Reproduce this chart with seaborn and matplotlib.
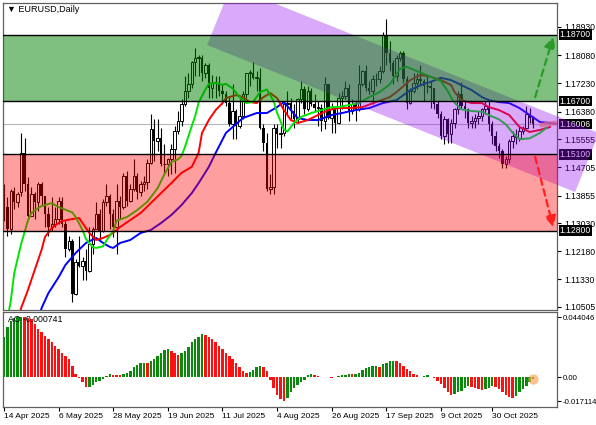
import numpy as np
import pandas as pd
import matplotlib
matplotlib.use('Agg')
import matplotlib.pyplot as plt
from matplotlib.patches import Polygon
from matplotlib.transforms import Bbox, TransformedBbox
import seaborn as sns

sns.set_theme(style='white')
plt.rcParams['font.family'] = ['Liberation Sans', 'DejaVu Sans']

# ── EURUSD daily bars, 14 Apr 2025 onwards ───────────────────────────────────
START_DATE = '2025-04-14'

OPEN = [
    1.1360, 1.1350, 1.1285, 1.1398, 1.1365,
    1.1395, 1.1515, 1.1420, 1.1325, 1.1390,
    1.1365, 1.1420, 1.1385, 1.1330, 1.1290,
    1.1300, 1.1315, 1.1370, 1.1300, 1.1225,
    1.1250, 1.1090, 1.1185, 1.1175, 1.1190,
    1.1160, 1.1240, 1.1285, 1.1330, 1.1280,
    1.1365, 1.1385, 1.1330, 1.1290, 1.1370,
    1.1350, 1.1445, 1.1370, 1.1405, 1.1445,
    1.1395, 1.1420, 1.1425, 1.1485, 1.1585,
    1.1550, 1.1560, 1.1480, 1.1480, 1.1495,
    1.1525, 1.1580, 1.1610, 1.1660, 1.1700,
    1.1720, 1.1787, 1.1800, 1.1800, 1.1755,
    1.1780, 1.1710, 1.1725, 1.1720, 1.1700,
    1.1690, 1.1665, 1.1600, 1.1640, 1.1595,
    1.1625, 1.1690, 1.1755, 1.1755, 1.1740,
    1.1740, 1.1590, 1.1545, 1.1405, 1.1410,
    1.1590, 1.1570, 1.1575, 1.1660, 1.1665,
    1.1640, 1.1615, 1.1675, 1.1705, 1.1645,
    1.1700, 1.1660, 1.1650, 1.1650, 1.1610,
    1.1720, 1.1620, 1.1645, 1.1605, 1.1680,
    1.1685, 1.1710, 1.1640, 1.1660, 1.1645,
    1.1720, 1.1760, 1.1710, 1.1700, 1.1735,
    1.1735, 1.1760, 1.1870, 1.1815, 1.1785,
    1.1745, 1.1800, 1.1815, 1.1735, 1.1665,
    1.1700, 1.1725, 1.1735, 1.1730, 1.1715,
    1.1715, 1.1710, 1.1660, 1.1630, 1.1565,
    1.1615, 1.1570, 1.1605, 1.1645, 1.1690,
    1.1655, 1.1645, 1.1605, 1.1610, 1.1620,
    1.1625, 1.1645, 1.1655, 1.1600, 1.1565,
    1.1535, 1.1520, 1.1480, 1.1495, 1.1550,
    1.1565, 1.1560, 1.1580, 1.1590, 1.1630,
    1.1620,
]
HIGH = [
    1.1420, 1.1380, 1.1405, 1.1410, 1.1395,
    1.1574, 1.1560, 1.1440, 1.1410, 1.1395,
    1.1425, 1.1425, 1.1385, 1.1350, 1.1380,
    1.1350, 1.1380, 1.1380, 1.1310, 1.1265,
    1.1255, 1.1195, 1.1265, 1.1200, 1.1225,
    1.1290, 1.1290, 1.1365, 1.1345, 1.1375,
    1.1420, 1.1390, 1.1345, 1.1420, 1.1385,
    1.1455, 1.1460, 1.1420, 1.1495, 1.1455,
    1.1430, 1.1445, 1.1495, 1.1630, 1.1615,
    1.1615, 1.1590, 1.1540, 1.1500, 1.1540,
    1.1595, 1.1640, 1.1675, 1.1745, 1.1755,
    1.1790, 1.1830, 1.1810, 1.1810, 1.1785,
    1.1785, 1.1750, 1.1745, 1.1745, 1.1720,
    1.1700, 1.1685, 1.1720, 1.1645, 1.1675,
    1.1700, 1.1755, 1.1765, 1.1788, 1.1760,
    1.1770, 1.1600, 1.1575, 1.1450, 1.1600,
    1.1600, 1.1595, 1.1670, 1.1700, 1.1680,
    1.1660, 1.1680, 1.1730, 1.1715, 1.1715,
    1.1710, 1.1690, 1.1670, 1.1660, 1.1742,
    1.1720, 1.1665, 1.1650, 1.1695, 1.1700,
    1.1730, 1.1720, 1.1675, 1.1670, 1.1780,
    1.1765, 1.1780, 1.1730, 1.1750, 1.1755,
    1.1775, 1.1878, 1.1918, 1.1850, 1.1795,
    1.1810, 1.1820, 1.1820, 1.1745, 1.1710,
    1.1755, 1.1755, 1.1780, 1.1735, 1.1750,
    1.1730, 1.1710, 1.1670, 1.1640, 1.1625,
    1.1620, 1.1615, 1.1650, 1.1700, 1.1728,
    1.1670, 1.1650, 1.1625, 1.1630, 1.1640,
    1.1650, 1.1670, 1.1670, 1.1610, 1.1580,
    1.1545, 1.1525, 1.1505, 1.1555, 1.1580,
    1.1585, 1.1595, 1.1595, 1.1655, 1.1650,
    1.1625,
]
LOW = [
    1.1310, 1.1265, 1.1270, 1.1345, 1.1350,
    1.1385, 1.1400, 1.1320, 1.1325, 1.1315,
    1.1340, 1.1355, 1.1290, 1.1265, 1.1280,
    1.1290, 1.1300, 1.1290, 1.1200, 1.1220,
    1.1065, 1.1085, 1.1170, 1.1130, 1.1130,
    1.1155, 1.1210, 1.1285, 1.1250, 1.1275,
    1.1355, 1.1285, 1.1260, 1.1210, 1.1315,
    1.1345, 1.1355, 1.1365, 1.1400, 1.1375,
    1.1385, 1.1400, 1.1405, 1.1480, 1.1490,
    1.1520, 1.1475, 1.1450, 1.1445, 1.1450,
    1.1453, 1.1570, 1.1595, 1.1655, 1.1680,
    1.1710, 1.1745, 1.1745, 1.1730, 1.1740,
    1.1680, 1.1680, 1.1680, 1.1685, 1.1660,
    1.1655, 1.1595, 1.1555, 1.1555, 1.1590,
    1.1615, 1.1680, 1.1715, 1.1735, 1.1700,
    1.1585, 1.1520, 1.1400, 1.1390, 1.1390,
    1.1530, 1.1530, 1.1565, 1.1630, 1.1615,
    1.1590, 1.1605, 1.1665, 1.1630, 1.1640,
    1.1655, 1.1640, 1.1595, 1.1580, 1.1585,
    1.1615, 1.1575, 1.1575, 1.1600, 1.1645,
    1.1675, 1.1610, 1.1630, 1.1610, 1.1640,
    1.1715, 1.1700, 1.1690, 1.1660, 1.1715,
    1.1725, 1.1755, 1.1780, 1.1760, 1.1720,
    1.1730, 1.1790, 1.1725, 1.1645, 1.1660,
    1.1695, 1.1705, 1.1715, 1.1670, 1.1695,
    1.1650, 1.1645, 1.1620, 1.1555, 1.1540,
    1.1545, 1.1545, 1.1590, 1.1630, 1.1650,
    1.1620, 1.1590, 1.1590, 1.1590, 1.1600,
    1.1610, 1.1630, 1.1580, 1.1540, 1.1520,
    1.1500, 1.1470, 1.1468, 1.1485, 1.1530,
    1.1540, 1.1550, 1.1570, 1.1585, 1.1605,
    1.1590,
]
CLOSE = [
    1.1350, 1.1285, 1.1398, 1.1365, 1.1390,
    1.1515, 1.1420, 1.1325, 1.1390, 1.1365,
    1.1420, 1.1385, 1.1330, 1.1290, 1.1300,
    1.1315, 1.1370, 1.1300, 1.1225, 1.1250,
    1.1090, 1.1185, 1.1175, 1.1190, 1.1160,
    1.1240, 1.1285, 1.1330, 1.1280, 1.1365,
    1.1385, 1.1330, 1.1290, 1.1370, 1.1350,
    1.1445, 1.1370, 1.1405, 1.1445, 1.1395,
    1.1420, 1.1425, 1.1485, 1.1585, 1.1550,
    1.1560, 1.1480, 1.1480, 1.1495, 1.1525,
    1.1580, 1.1610, 1.1660, 1.1700, 1.1720,
    1.1787, 1.1800, 1.1800, 1.1755, 1.1780,
    1.1710, 1.1725, 1.1720, 1.1700, 1.1690,
    1.1665, 1.1600, 1.1640, 1.1595, 1.1625,
    1.1690, 1.1755, 1.1755, 1.1740, 1.1740,
    1.1590, 1.1545, 1.1405, 1.1410, 1.1590,
    1.1570, 1.1575, 1.1660, 1.1665, 1.1640,
    1.1615, 1.1675, 1.1705, 1.1645, 1.1700,
    1.1660, 1.1650, 1.1650, 1.1610, 1.1720,
    1.1620, 1.1645, 1.1605, 1.1680, 1.1685,
    1.1710, 1.1640, 1.1660, 1.1645, 1.1720,
    1.1760, 1.1710, 1.1700, 1.1735, 1.1735,
    1.1760, 1.1870, 1.1815, 1.1785, 1.1745,
    1.1800, 1.1815, 1.1735, 1.1665, 1.1700,
    1.1725, 1.1735, 1.1730, 1.1715, 1.1715,
    1.1710, 1.1660, 1.1630, 1.1565, 1.1615,
    1.1570, 1.1605, 1.1645, 1.1690, 1.1655,
    1.1645, 1.1605, 1.1610, 1.1620, 1.1625,
    1.1645, 1.1655, 1.1600, 1.1565, 1.1535,
    1.1520, 1.1480, 1.1495, 1.1550, 1.1565,
    1.1560, 1.1580, 1.1590, 1.1630, 1.1620,
    1.1600,
]

# Alligator lines (bar index, value)
GREEN_IDX = [0, 2, 3, 5, 7, 8, 10, 11, 14, 16, 18, 20, 21, 23, 24, 26, 27, 29, 30, 32,
             33, 36, 39, 42, 45, 47, 49, 51, 52, 53, 55, 56, 57, 59, 60, 62, 64, 65, 67, 69,
             71, 73, 75, 77, 79, 80, 82, 83, 85, 87, 90, 93, 96, 98, 101, 104, 107, 110, 113, 116,
             118, 120, 123, 125, 128, 130, 131, 132, 134, 137, 140, 142, 145, 147, 149, 151, 154, 157, 159]
GREEN_VAL = [1.0960, 1.1070, 1.1153, 1.1240, 1.1310, 1.1333, 1.1348, 1.1354, 1.1363, 1.1351,
             1.1343, 1.1335, 1.1321, 1.1282, 1.1255, 1.1230, 1.1228, 1.1233, 1.1250, 1.1280,
             1.1310, 1.1321, 1.1342, 1.1367, 1.1408, 1.1450, 1.1486, 1.1495, 1.1505, 1.1532,
             1.1595, 1.1625, 1.1665, 1.1705, 1.1722, 1.1725, 1.1719, 1.1722, 1.1708, 1.1682,
             1.1664, 1.1668, 1.1697, 1.1705, 1.1670, 1.1634, 1.1585, 1.1578, 1.1605, 1.1622,
             1.1634, 1.1643, 1.1652, 1.1652, 1.1658, 1.1664, 1.1682, 1.1697, 1.1720, 1.1767,
             1.1773, 1.1764, 1.1752, 1.1743, 1.1730, 1.1700, 1.1680, 1.1665, 1.1645, 1.1640,
             1.1638, 1.1628, 1.1615, 1.1600, 1.1575, 1.1555, 1.1558, 1.1574, 1.1590]
RED_IDX = [4, 5, 7, 9, 11, 12, 14, 16, 17, 20, 22, 23, 25, 27, 29, 31, 33, 34, 37, 40,
           43, 46, 49, 52, 55, 57, 58, 60, 62, 64, 65, 68, 70, 72, 74, 76, 78, 80, 82, 84,
           86, 89, 92, 95, 98, 101, 105, 109, 113, 115, 119, 122, 125, 128, 131, 132, 134, 137, 140, 142,
           145, 148, 151, 154, 157, 160]
RED_VAL = [1.0990, 1.1047, 1.1101, 1.1162, 1.1222, 1.1261, 1.1288, 1.1303, 1.1309, 1.1315,
           1.1318, 1.1303, 1.1273, 1.1252, 1.1258, 1.1267, 1.1282, 1.1291, 1.1312, 1.1333,
           1.1363, 1.1393, 1.1423, 1.1454, 1.1472, 1.1514, 1.1574, 1.1613, 1.1643, 1.1664,
           1.1679, 1.1688, 1.1682, 1.1667, 1.1664, 1.1682, 1.1694, 1.1679, 1.1643, 1.1613,
           1.1604, 1.1613, 1.1628, 1.1643, 1.1649, 1.1649, 1.1652, 1.1667, 1.1682, 1.1697,
           1.1733, 1.1749, 1.1743, 1.1733, 1.1718, 1.1697, 1.1673, 1.1664, 1.1664, 1.1652,
           1.1643, 1.1628, 1.1592, 1.1577, 1.1583, 1.1592]
BLUE_IDX = [10, 11, 13, 16, 18, 21, 24, 27, 29, 31, 32, 34, 37, 40, 43, 46, 49, 52, 55, 57,
            60, 62, 65, 67, 70, 74, 77, 80, 82, 84, 86, 89, 92, 96, 99, 103, 107, 111, 115, 119,
            122, 125, 128, 131, 134, 137, 140, 142, 145, 148, 151, 154, 157, 160, 162]
BLUE_VAL = [1.1000, 1.1047, 1.1092, 1.1140, 1.1177, 1.1213, 1.1243, 1.1258, 1.1243, 1.1231,
            1.1228, 1.1243, 1.1252, 1.1273, 1.1282, 1.1303, 1.1327, 1.1357, 1.1393, 1.1423,
            1.1472, 1.1514, 1.1574, 1.1592, 1.1619, 1.1634, 1.1634, 1.1652, 1.1667, 1.1643,
            1.1619, 1.1613, 1.1613, 1.1628, 1.1634, 1.1643, 1.1649, 1.1664, 1.1673, 1.1703,
            1.1718, 1.1728, 1.1740, 1.1733, 1.1718, 1.1703, 1.1682, 1.1673, 1.1667, 1.1664,
            1.1649, 1.1628, 1.1607, 1.1604, 1.1601]

# Awesome Oscillator
AO = [
    0.0296, 0.0365, 0.0413, 0.0432, 0.0440, 0.04405, 0.0438, 0.0433, 0.0425, 0.0389,
    0.0352, 0.0328, 0.0304, 0.0279, 0.0255, 0.0231, 0.0207, 0.0182, 0.0158, 0.0134,
    0.0085, 0.0024, -0.0005, -0.0036, -0.0070, -0.0066, -0.0053, -0.0036, -0.0024, -0.0012,
    0.0012, 0.0029, 0.0021, 0.0017, 0.0016, 0.0024, 0.0034, 0.0049, 0.0073, 0.0092,
    0.0102, 0.0107, 0.0104, 0.0121, 0.0134, 0.0158, 0.0182, 0.0202, 0.0211, 0.0190,
    0.0177, 0.0165, 0.0175, 0.0194, 0.0224, 0.0255, 0.0279, 0.0296, 0.0316, 0.0311,
    0.0296, 0.0279, 0.0255, 0.0231, 0.0207, 0.0182, 0.0158, 0.0134, 0.0109, 0.0073,
    0.0044, 0.0034, 0.0039, 0.0053, 0.0073, 0.0085, 0.0078, 0.0044, -0.0019, -0.0073,
    -0.0125, -0.0160, -0.0171, -0.0146, -0.0109, -0.0073, -0.0053, -0.0036, -0.0019, 0.0019,
    0.0029, 0.0015, 0.0010, 0.0007, 0.0005, 0.0000, -0.0002, 0.0005, 0.0010, 0.0015,
    0.0019, 0.0024, 0.0022, 0.0029, 0.0036, 0.0053, 0.0068, 0.0078, 0.0085, 0.0087,
    0.0078, 0.0097, 0.0109, 0.0117, 0.0121, 0.0117, 0.0104, 0.0085, 0.0061, 0.0044,
    0.0029, 0.0015, 0.0007, 0.0010, 0.0015, 0.0005, -0.0007, -0.0024, -0.0044, -0.0073,
    -0.0104, -0.0126, -0.0122, -0.0109, -0.0097, -0.0078, -0.0061, -0.0068, -0.0078, -0.0085,
    -0.0092, -0.0087, -0.0073, -0.0061, -0.0068, -0.0085, -0.0109, -0.0126, -0.0139, -0.0146,
    -0.0134, -0.0109, -0.0085, -0.0061, -0.0036, -0.000741,
]
AO_LABEL = 'AO -0.000741'

# Analyst drawings
GREEN_ZONE = (1.1670, 1.1870)
RED_ZONE = (1.1280, 1.1510)
LAST_PRICE = 1.16006
CHANNEL = [(59.5, 1.18388), (66.5, 1.20164), (174.3, 1.15739), (167.3, 1.13963)]
ARROW_UP = [(155.6, 1.1682), (160.9, 1.1863)]
ARROW_DN = [(155.6, 1.1502), (160.9, 1.1291)]
LINE_END_MARK = [(157.5, 1.1598), (161.5, 1.1604)]

Y_TICKS = [1.18930, 1.18080, 1.17230, 1.16380, 1.15555, 1.14705,
           1.13855, 1.13030, 1.12180, 1.11330, 1.10505]
BOX_LEVELS = [1.18700, 1.16700, 1.16006, 1.15100, 1.12800]
AO_TICKS = [0.044046, 0.0, -0.017114]
AO_TICK_LABELS = ['0.044046', '0.00', '-0.017114']
DATE_LABEL_BARS = [0, 16, 32, 48, 64, 80, 96, 112, 128, 143]

# ── Figure layout (pixel boxes) ─────────────────────────────────────────────
W, H = 596, 425
fig = plt.figure(figsize=(W / 100, H / 100), dpi=100)
fig.patch.set_facecolor('white')


def px_axes(x0, y0, x1, y1):
    return fig.add_axes([x0 / W, 1 - y1 / H, (x1 - x0) / W, (y1 - y0) / H])


ax = px_axes(3, 3, 557, 310)
ax2 = px_axes(3, 312, 557, 407)

n = len(CLOSE)
xi = np.arange(n)
o, h, l, c = map(np.array, (OPEN, HIGH, LOW, CLOSE))
dates = pd.bdate_range(START_DATE, periods=n)

# ── Main price panel ────────────────────────────────────────────────────────
ax.axhline(LAST_PRICE, color='#b8b8b8', lw=0.8, zorder=1.5)

up = c >= o
body_lo = np.minimum(o, c)
body_h = np.maximum(np.abs(c - o), 0.00012)
ax.vlines(xi, l, h, color='black', lw=0.8, zorder=2)
ax.bar(xi[up], body_h[up], bottom=body_lo[up], width=0.72,
       facecolor='white', edgecolor='black', linewidth=0.7, zorder=2.2)
ax.bar(xi[~up], body_h[~up], bottom=body_lo[~up], width=0.72,
       color='black', linewidth=0, zorder=2.2)

sns.lineplot(x=BLUE_IDX, y=BLUE_VAL, ax=ax, color='#0000ff', lw=1.4, zorder=3)
sns.lineplot(x=RED_IDX, y=RED_VAL, ax=ax, color='#ff0000', lw=1.4, zorder=3)
sns.lineplot(x=GREEN_IDX, y=GREEN_VAL, ax=ax, color='#00e600', lw=1.4, zorder=3)

(mx0, my0), (mx1, my1) = LINE_END_MARK
ax.plot([mx0, mx1], [my0, my1], color='#ff9a5a', lw=3.5, alpha=0.75,
        solid_capstyle='round', zorder=3.4)

# descending channel (extends into the price scale)
chan = ax.add_patch(Polygon(CHANNEL, closed=True, facecolor=(149 / 255, 12 / 255, 241 / 255),
                            alpha=0.35, lw=0, zorder=4))
chan.set_clip_box(TransformedBbox(Bbox([[0, 0], [1.1, 1]]), ax.transAxes))

# support / resistance zones
ax.axhspan(*GREEN_ZONE, facecolor=(0, 0.5, 0), alpha=0.5, lw=0, zorder=5)
ax.axhspan(*RED_ZONE, facecolor=(1, 0, 0), alpha=0.38, lw=0, zorder=5)
for lvl in GREEN_ZONE + RED_ZONE:
    ax.axhline(lvl, color='black', lw=1.0, zorder=6)

for (p0, p1), col in [(ARROW_UP, '#2a9a2a'), (ARROW_DN, '#ff2020')]:
    ax.annotate('', xy=p1, xytext=p0, zorder=7,
                arrowprops=dict(arrowstyle='-|>,head_length=0.55,head_width=0.28',
                                color=col, lw=1.6, linestyle=(0, (3, 2)),
                                shrinkA=0, shrinkB=0))

ax.set_xlim(-0.3, 162.0)
ax.set_ylim(1.10412, 1.19652)
ax.set_xticks([])
ax.yaxis.tick_right()
ax.set_yticks(Y_TICKS)
ax.set_yticklabels([f'{v:.5f}' for v in Y_TICKS])
ax.tick_params(axis='y', length=3, width=0.8, pad=2.5, labelsize=6.2,
               colors='black', right=True, left=False)
ax.set_xlabel('')
ax.set_ylabel('')

for v in BOX_LEVELS:
    ax.text(1.005, v, f'{v:.5f}', transform=ax.get_yaxis_transform(),
            color='white', fontsize=6.2, va='center', ha='left', zorder=3.5,
            clip_on=False,
            bbox=dict(boxstyle='square,pad=0.1', fc='black', ec='none'))

ax.text(0.007, 0.979, '\u25bc EURUSD,Daily', transform=ax.transAxes,
        fontsize=6.5, va='center', ha='left', color='black', zorder=8)

# ── AO panel ────────────────────────────────────────────────────────────────
ao = np.array(AO)
ao_cols = ['#0a8a0a' if i == 0 or ao[i] >= ao[i - 1] else '#ff1010' for i in range(n)]
ax2.bar(xi, ao, width=0.72, color=ao_cols, linewidth=0, zorder=2)
ax2.scatter([xi[-1]], [ao[-1]], s=55, color='#ffa050', alpha=0.65, lw=0, zorder=3)
ax2.text(0.009, 0.926, AO_LABEL, transform=ax2.transAxes, fontsize=6.3,
         va='center', ha='left', color='black', zorder=4)

ax2.set_xlim(-0.3, 162.0)
ax2.set_ylim(-0.02148, 0.04769)
ax2.yaxis.tick_right()
ax2.set_yticks(AO_TICKS)
ax2.set_yticklabels(AO_TICK_LABELS)
ax2.set_xticks(DATE_LABEL_BARS)
ax2.set_xticklabels([f'{dates[i].day} {dates[i]:%b %Y}' for i in DATE_LABEL_BARS], ha='left')
ax2.tick_params(axis='y', length=3, width=0.8, pad=1, labelsize=5.6,
                colors='black', right=True, left=False)
ax2.tick_params(axis='x', length=3, width=0.8, pad=1.5, labelsize=6.0,
                colors='black', bottom=True)

for a in (ax, ax2):
    for sp in a.spines.values():
        sp.set_color('#606060')
        sp.set_linewidth(0.9)

fig.savefig('out.png', dpi=100, facecolor='white')
